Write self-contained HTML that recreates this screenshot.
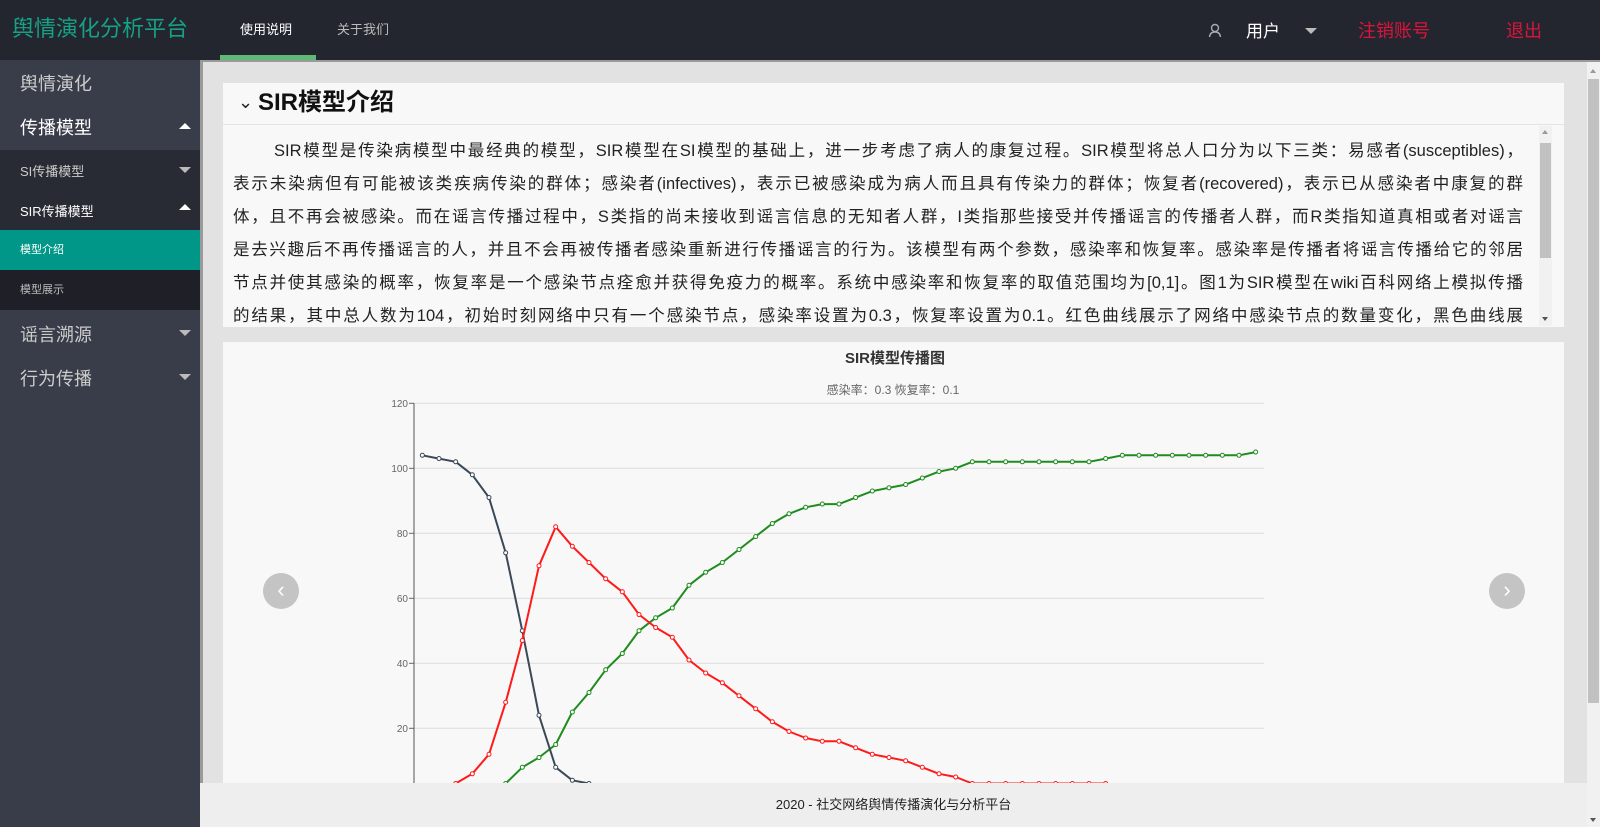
<!DOCTYPE html>
<html><head><meta charset="utf-8">
<style>
*{margin:0;padding:0;box-sizing:border-box}
body{width:1600px;height:827px;overflow:hidden;background:#e2e2e2;font-family:"Liberation Sans","Noto Sans CJK SC",sans-serif;position:relative}
.abs{position:absolute}
#top{left:0;top:0;width:1600px;height:60px;background:#23262f}
#side{left:0;top:60px;width:200px;height:767px;background:#393d49}
.si{position:absolute;left:0;width:200px;color:#fff}
.tri{position:absolute;left:179px;width:0;height:0;border-left:6px solid transparent;border-right:6px solid transparent}
.up{border-bottom:6px solid #fff}
.dn{border-top:6px solid #bbb}
.panel{background:#f8f8f8}
.line{position:absolute;left:233px;width:1290px;height:33px;line-height:33px;font-size:16.5px;color:#222;text-align:justify;text-align-last:justify;white-space:nowrap;overflow:hidden}
.arrow{position:absolute;width:36px;height:36px;border-radius:50%;background:#c4c4c4;color:#fff;font-size:22px;line-height:34px;text-align:center}
</style></head><body>
<div id="top" class="abs">
  <div class="abs" style="left:12px;top:14px;font-size:22px;color:#16a085;line-height:30px">舆情演化分析平台</div>
  <div class="abs" style="left:240px;top:22px;font-size:13px;color:#fff;line-height:16px">使用说明</div>
  <div class="abs" style="left:220px;top:55px;width:96px;height:5px;background:#5fb878"></div>
  <div class="abs" style="left:337px;top:22px;font-size:13px;color:#bbb;line-height:16px">关于我们</div>
  <svg class="abs" style="left:1208px;top:23px" width="14" height="16"><circle cx="7" cy="5" r="3.5" fill="none" stroke="#aaa" stroke-width="1.4"/><path d="M1.5 14 Q2 9 7 9 Q12 9 12.5 14" fill="none" stroke="#aaa" stroke-width="1.4"/></svg>
  <div class="abs" style="left:1246px;top:22px;font-size:17px;color:#fff;line-height:20px">用户</div>
  <div class="abs" style="left:1305px;top:28px;width:0;height:0;border-left:6px solid transparent;border-right:6px solid transparent;border-top:6px solid #bbb"></div>
  <div class="abs" style="left:1358px;top:20px;font-size:18px;color:#dc143c;line-height:22px">注销账号</div>
  <div class="abs" style="left:1506px;top:20px;font-size:18px;color:#dc143c;line-height:22px">退出</div>
</div>
<div class="abs" style="left:200px;top:60px;width:1400px;height:2px;background:#9a9a9a"></div>
<div class="abs" style="left:200px;top:60px;width:3px;height:767px;background:#9a9a9a"></div>
<div id="side" class="abs">
  <div class="si" style="top:10px;height:24px;left:20px;font-size:18px;color:#ccc">舆情演化</div>
  <div class="si" style="top:54px;left:20px;font-size:18px;color:#fff">传播模型</div>
  <div class="tri up" style="top:63px"></div>
  <div class="si" style="top:90px;height:160px;background:#282b33"></div>
  <div class="si" style="top:101px;left:20px;font-size:13px;color:#ccc">SI传播模型</div>
  <div class="tri dn" style="top:107px"></div>
  <div class="si" style="top:141px;left:20px;font-size:13px;color:#fff">SIR传播模型</div>
  <div class="tri up" style="top:144px"></div>
  <div class="si" style="top:170px;height:40px;background:#009688;padding-left:20px;line-height:40px;font-size:11px">模型介绍</div>
  <div class="si" style="top:210px;height:40px;background:#1f2027;padding-left:20px;line-height:40px;font-size:11px;color:#bbb">模型展示</div>
  <div class="si" style="top:261px;left:20px;font-size:18px;color:#ccc">谣言溯源</div>
  <div class="tri dn" style="top:270px"></div>
  <div class="si" style="top:305px;left:20px;font-size:18px;color:#ccc">行为传播</div>
  <div class="tri dn" style="top:314px"></div>
</div>

<div class="abs panel" style="left:223px;top:83px;width:1341px;height:244px;overflow:hidden">
<div>
<div class="line" style="top:52px;left:51px;width:1249px">SIR模型是传染病模型中最经典的模型，SIR模型在SI模型的基础上，进一步考虑了病人的康复过程。SIR模型将总人口分为以下三类：易感者(susceptibles)，</div>
<div class="line" style="top:85px;left:10px">表示未染病但有可能被该类疾病传染的群体；感染者(infectives)，表示已被感染成为病人而且具有传染力的群体；恢复者(recovered)，表示已从感染者中康复的群</div>
<div class="line" style="top:118px;left:10px">体，且不再会被感染。而在谣言传播过程中，S类指的尚未接收到谣言信息的无知者人群，I类指那些接受并传播谣言的传播者人群，而R类指知道真相或者对谣言</div>
<div class="line" style="top:151px;left:10px">是去兴趣后不再传播谣言的人，并且不会再被传播者感染重新进行传播谣言的行为。该模型有两个参数，感染率和恢复率。感染率是传播者将谣言传播给它的邻居</div>
<div class="line" style="top:184px;left:10px">节点并使其感染的概率，恢复率是一个感染节点痊愈并获得免疫力的概率。系统中感染率和恢复率的取值范围均为[0,1]。图1为SIR模型在wiki百科网络上模拟传播</div>
<div class="line" style="top:217px;left:10px">的结果，其中总人数为104，初始时刻网络中只有一个感染节点，感染率设置为0.3，恢复率设置为0.1。红色曲线展示了网络中感染节点的数量变化，黑色曲线展</div>
</div>
</div>
<div class="abs" style="left:238px;top:92px;font-size:18px;color:#222">⌄</div>
<div class="abs" style="left:258px;top:89px;font-size:24px;font-weight:bold;color:#111;line-height:28px">SIR模型介绍</div>
<div class="abs" style="left:223px;top:124px;width:1341px;height:1px;background:#e4e4e4"></div>
<div class="abs" style="left:1539px;top:126px;width:13px;height:200px;background:#f1f1f1">
  <div class="abs" style="left:3px;top:4px;border-left:3.5px solid transparent;border-right:3.5px solid transparent;border-bottom:4px solid #999"></div>
  <div class="abs" style="left:1px;top:17px;width:11px;height:115px;background:#c1c1c1"></div>
  <div class="abs" style="left:3px;top:191px;border-left:3.5px solid transparent;border-right:3.5px solid transparent;border-top:4px solid #555"></div>
</div>

<div class="abs panel" style="left:223px;top:342px;width:1341px;height:485px"></div>
<svg id="chart" class="abs" style="left:0;top:0" width="1600" height="827"></svg>
<div class="arrow" style="left:263px;top:573px">‹</div>
<div class="arrow" style="left:1489px;top:573px">›</div>

<div class="abs" style="left:1587px;top:62px;width:13px;height:765px;background:#f1f1f1">
  <div class="abs" style="left:3px;top:7px;border-left:3.5px solid transparent;border-right:3.5px solid transparent;border-bottom:4px solid #999"></div>
  <div class="abs" style="left:1px;top:17px;width:11px;height:624px;background:#c1c1c1"></div>
  <div class="abs" style="left:3px;top:756px;border-left:3.5px solid transparent;border-right:3.5px solid transparent;border-top:4px solid #555"></div>
</div>
<div class="abs" style="left:200px;top:783px;width:1387px;height:44px;background:#eeeeee;text-align:center;line-height:44px;font-size:13px;color:#222">2020 - 社交网络舆情传播演化与分析平台</div>

<script>
const susceptible=[104,103,102,98,91,74,50,24,8,4,3,2,2,1,1,1,1,1,1,1,1,1,1,1,1,1,1,1,1,1,1,1,1,0,0,0,0,0,0,0,0,0,0,0,0,0,0,0,0,0,0];
const infected=[1,2,3,6,12,28,47,70,82,76,71,66,62,55,51,48,41,37,34,30,26,22,19,17,16,16,14,12,11,10,8,6,5,3,3,3,3,3,3,3,3,3,2,2,1,1,1,1,1,1,0];
const recovered=[0,0,0,1,2,3,8,11,15,25,31,38,43,50,54,57,64,68,71,75,79,83,86,88,89,89,91,93,94,95,97,99,100,102,102,102,102,102,102,102,102,103,104,104,104,104,104,104,104,104,105];
const yTicks=[0,20,40,60,80,100,120];
const chartTitle="SIR模型传播图";
const chartSub="感染率：0.3  恢复率：0.1";
const NS="http://www.w3.org/2000/svg";
const svg=document.getElementById('chart');
const L=414,R=1264,T=403.3,B=793.3,YMAX=120;
const n=susceptible.length;
function xPos(i){return L+(R-L)/n*(i+0.5);}
function yPos(v){return B-(B-T)*v/YMAX;}
function mk(tag,attrs){const e=document.createElementNS(NS,tag);for(const k in attrs)e.setAttribute(k,attrs[k]);svg.appendChild(e);return e;}
let t=mk('text',{x:895,y:363,'text-anchor':'middle','font-size':15,'font-weight':'bold',fill:'#333','font-family':'Liberation Sans, Noto Sans CJK SC, sans-serif'});
t.textContent=chartTitle;


let s=mk('text',{x:893,y:394,'text-anchor':'middle','font-size':12,fill:'#666','font-family':'Liberation Sans, Noto Sans CJK SC, sans-serif'});
s.textContent=chartSub;


yTicks.forEach(v=>{
  const y=yPos(v);
  if(v>0){const g=mk('line',{x1:L,x2:R,y1:y,y2:y,stroke:'#dcdcdc','stroke-width':1});
  
  }
  const tk=mk('line',{x1:L-5,x2:L,y1:y,y2:y,stroke:'#666'});
  
  
  const lb=mk('text',{x:L-6,y:y+3.5,'text-anchor':'end','font-size':10,fill:'#666','font-family':'Liberation Sans, sans-serif'});
  lb.textContent=v;
  
  
});
const ax=mk('line',{x1:L,x2:L,y1:T,y2:B,stroke:'#555','stroke-width':1});


function series(data,color,name){
  const pts=data.map((v,i)=>xPos(i).toFixed(1)+','+yPos(v).toFixed(1)).join(' ');
  const pl=mk('polyline',{points:pts,fill:'none',stroke:color,'stroke-width':2,'stroke-linejoin':'round'});
  
  
  data.forEach((v,i)=>{
    const c=mk('circle',{cx:xPos(i),cy:yPos(v),r:2,fill:'#fff',stroke:color,'stroke-width':1});
    
    
  });
}
series(recovered,'#1e8c1e','recovered');
series(susceptible,'#3b4856','susceptible');
series(infected,'#ff1a1a','infected');
</script>
</body></html>
